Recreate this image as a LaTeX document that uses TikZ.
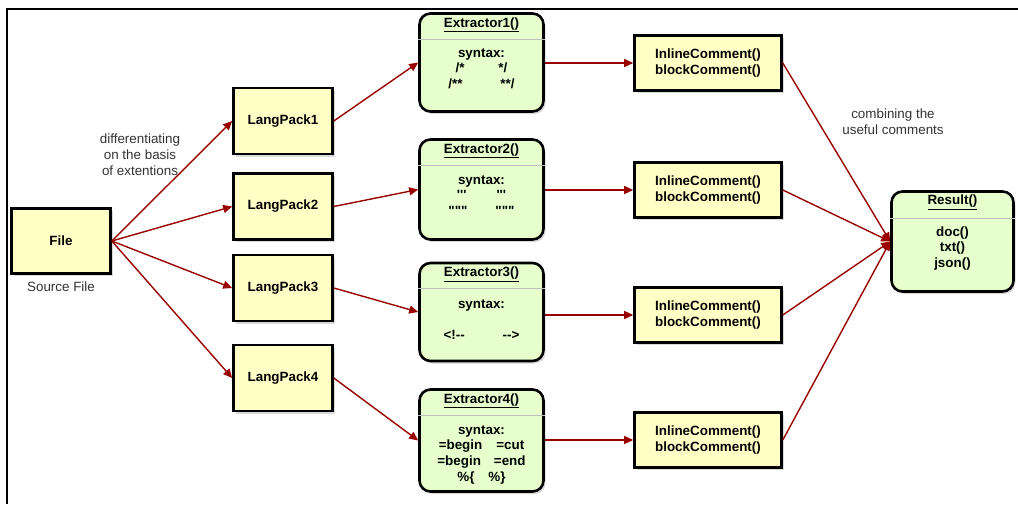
\documentclass[tikz,border=0pt]{standalone}
\usepackage{fontspec}
\setmainfont{Liberation Sans}[Ligatures=TeXOff]
\usetikzlibrary{shadows,arrows.meta}
\definecolor{yfill}{HTML}{FFFFC6}
\definecolor{gfill}{HTML}{E6FFCC}
\definecolor{arrred}{HTML}{990000}
\definecolor{labgray}{HTML}{333333}
\begin{document}
\begin{tikzpicture}[x=1pt,y=-1pt,
  shad/.style={drop shadow={shadow xshift=2pt,shadow yshift=-2.5pt,opacity=0.3}},
  ybox/.style={draw=black,line width=2.6pt,fill=yfill,shad,font=\fontsize{13.4}{16}\selectfont\bfseries,align=center,inner sep=0pt},
  lpbox/.style={ybox,minimum width=99pt,minimum height=66pt},
  icbox/.style={ybox,minimum width=147pt,minimum height=55pt},
  gbox/.style={draw=black,line width=2.6pt,fill=gfill,rounded corners=11pt,shad,inner sep=0pt},
  ttl/.style={font=\fontsize{13.4}{16}\selectfont\bfseries,inner sep=0pt},
  body/.style={font=\fontsize{13.4}{15.7}\selectfont\bfseries,align=center,inner sep=0pt,anchor=north},
  lab/.style={font=\fontsize{13.4}{16}\selectfont,text=labgray,align=center,inner sep=0pt},
  arr/.style={draw=arrred,line width=1.4pt,-{Triangle[length=9pt,width=8pt]}},
  sep/.style={draw=black!25,line width=1pt}
]
\useasboundingbox (0,0) rectangle (1018,504);
\draw[line width=2pt] (7,504) -- (7,9) -- (1018,9);

% File
\node[ybox,minimum width=99pt,minimum height=65pt] (file) at (61,241) {File};
\node[lab] (srclab) at (61,287) {Source File};
\node[lab] (difflab) at (140,155) {differentiating\\on the basis\\of extentions};
\node[lab] (comblab) at (893,122) {combining the\\useful comments};

% LangPacks
\node[lpbox] (lp1) at (283,121) {LangPack1};
\node[lpbox] (lp2) at (283,206.5) {LangPack2};
\node[lpbox] (lp3) at (283,288) {LangPack3};
\node[lpbox] (lp4) at (283,378) {LangPack4};

% Extractors
\node[gbox,minimum width=124pt,minimum height=98pt] (ex1) at (481.5,62.5) {};
\node[gbox,minimum width=124pt,minimum height=100pt] (ex2) at (481.5,189.5) {};
\node[gbox,minimum width=124pt,minimum height=98pt] (ex3) at (481.5,312) {};
\node[gbox,minimum width=124pt,minimum height=102pt] (ex4) at (481.5,440.5) {};
\foreach \i in {1,2,3,4}{
  \draw[sep] ([yshift=-27pt]ex\i.north west) -- ([yshift=-27pt]ex\i.north east);
  \node[ttl] (ext\i) at ([yshift=-12.5pt]ex\i.north) {\underline{Extractor\i()}};
}
\node[body] (exb1) at ([yshift=-36pt]ex1.north) {syntax:\\/*\hspace{34pt}*/\\/**\hspace{38pt}**/};
\node[body] (exb2) at ([yshift=-37pt]ex2.north) {syntax:\\'''\hspace{30pt}'''\\"""\hspace{28pt}"""};
\node[body] (exb3) at ([yshift=-38pt]ex3.north) {syntax:\\[15.5pt]<!--\hspace{38pt}-->};
\node[body] (exb4) at ([yshift=-37pt]ex4.north) {syntax:\\=begin\hspace{14pt}=cut\\=begin\hspace{13pt}=end\\\%\{\hspace{14pt}\%\}};

% Inline comment boxes
\node[icbox] (ic1) at (708,63) {InlineComment()\\blockComment()};
\node[icbox] (ic2) at (708,190) {InlineComment()\\blockComment()};
\node[icbox] (ic3) at (708,315) {InlineComment()\\blockComment()};
\node[icbox] (ic4) at (708,440) {InlineComment()\\blockComment()};

% Result
\node[gbox,minimum width=122pt,minimum height=100pt] (res) at (952.5,241.5) {};
\draw[sep] ([yshift=-28pt]res.north west) -- ([yshift=-28pt]res.north east);
\node[ttl] (rest) at ([yshift=-12pt]res.north) {\underline{Result()}};
\node[body] (resb) at ([yshift=-36pt]res.north) {doc()\\txt()\\json()};

% Connectors
\foreach \i in {1,2,3,4}{
  \draw[arr] (file.east) -- (lp\i.west);
  \draw[arr] (lp\i.east) -- (ex\i.west);
  \draw[arr] (ic\i.west -| ex\i.east) -- (ic\i.west);
  \draw[arr] (ic\i.east) -- (res.west);
}
\end{tikzpicture}
\end{document}
